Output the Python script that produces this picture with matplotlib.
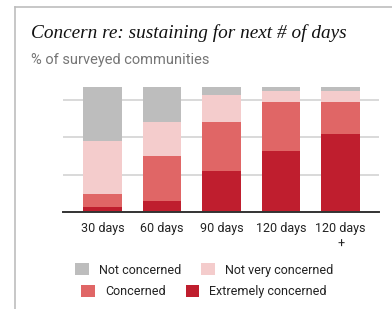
import numpy as np
import matplotlib
matplotlib.use('Agg')
import matplotlib.pyplot as plt
from matplotlib.lines import Line2D
from matplotlib.patches import Patch

#%% data (% of surveyed communities)
categories = ['30 days', '60 days', '90 days', '120 days', '120 days\n+']
extremely = [4, 9, 33, 49, 63]
concerned = [11, 36, 39, 39, 25]
not_very = [42, 27, 22, 9, 9]
not_concerned = [43, 28, 6, 3, 3]

series = [('Extremely concerned', extremely, '#BF1E2E'),
          ('Concerned', concerned, '#E06666'),
          ('Not very concerned', not_very, '#F4CCCC'),
          ('Not concerned', not_concerned, '#BDBDBD')]

#%% figure
plt.rcParams['font.family'] = ['Roboto', 'DejaVu Sans']
fig = plt.figure(figsize=(3.92, 3.09), dpi=100)
ax = fig.add_axes([0.16, 0.313, 0.807, 0.4045])

x = np.arange(len(categories))
bottom = np.zeros(len(categories))
for name, vals, col in series:
    ax.bar(x, vals, width=0.647, bottom=bottom, color=col, label=name, zorder=3)
    bottom += np.array(vals)

ax.set_xlim(-0.669, 4.647)
ax.set_ylim(0, 100)
ax.set_yticks([30, 60, 90])
ax.yaxis.grid(True, color='#d9d9d9', lw=1.4, zorder=0)
ax.tick_params(axis='y', length=0, labelleft=False)
ax.set_xticks(x)
ax.set_xticklabels(categories, fontsize=9, color='#222222', linespacing=1.3)
ax.tick_params(axis='x', length=0, pad=7)
for s in ['top', 'right', 'left']:
    ax.spines[s].set_visible(False)
ax.spines['bottom'].set_color('#333333')
ax.spines['bottom'].set_linewidth(1.4)
ax.spines['bottom'].set_zorder(4)

# titles
fig.text(31/392, 1 - 33/309, 'Concern re: sustaining for next # of days',
         family='Liberation Serif', style='italic', fontsize=13.9,
         color='#111111', va='center', ha='left')
fig.text(31/392, 1 - 60/309, '% of surveyed communities',
         fontsize=10.5, color='#757575', va='center', ha='left')

# card border
fig.add_artist(Line2D([15/392, 15/392], [0, 1 - 6.5/309], color='#bdbdbd', lw=1.2))
fig.add_artist(Line2D([15/392, 1], [1 - 6.5/309, 1 - 6.5/309], color='#bdbdbd', lw=1.2))

# legend, two centred rows
cols = {name: col for name, vals, col in series}
rows = [['Not concerned', 'Not very concerned'], ['Concerned', 'Extremely concerned']]
ys = [270, 291.5]
for row, yy in zip(rows, ys):
    handles = [Patch(facecolor=cols[n], edgecolor='none', label=n) for n in row]
    fig.legend(handles=handles, loc='center', bbox_to_anchor=(204/392, 1 - yy/309),
               ncol=2, frameon=False, fontsize=9, handlelength=1.1, handleheight=1.1,
               handletextpad=0.8, columnspacing=1.6, labelcolor='#222222',
               borderpad=0, borderaxespad=0)

fig.savefig('out.png', dpi=100)
